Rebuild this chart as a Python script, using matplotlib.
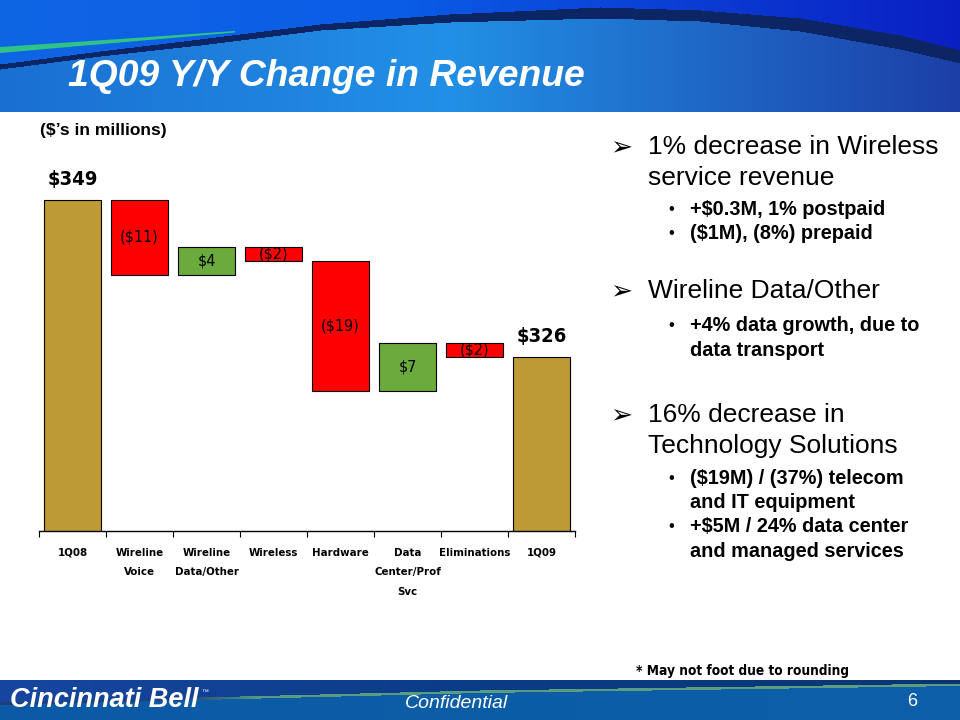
import numpy as np
import matplotlib
matplotlib.use("Agg")
import matplotlib.pyplot as plt
import matplotlib.colors as mcolors
from matplotlib.patches import Polygon

# ---- chart data ($ in millions) ----
categories = ["1Q08", "Wireline\nVoice", "Wireline\nData/Other", "Wireless",
              "Hardware", "Data\nCenter/Prof\nSvc", "Eliminations", "1Q09"]
start_value = 349
changes = [-11, 4, -2, -19, 7, -2]
end_value = 326
axis_floor = 300.5
axis_ceiling = 354.8

# ---- right hand commentary ----
headline_1 = ["1% decrease in Wireless", "service revenue"]
detail_1 = ["+$0.3M, 1% postpaid", "($1M), (8%) prepaid"]
headline_2 = ["Wireline Data/Other"]
detail_2 = ["+4% data growth, due to", "data transport"]
headline_3 = ["16% decrease in", "Technology Solutions"]
detail_3 = ["($19M) / (37%) telecom", "and IT equipment",
            "+$5M / 24% data center", "and managed services"]

TOTAL_COLOR = "#BE9A37"
DOWN_COLOR = "#FF0000"
UP_COLOR = "#6BAA3C"
NARROW = dict(family=["DejaVu Sans"], fontstretch="condensed")
SANS = ["Liberation Sans", "DejaVu Sans"]

W, H = 960, 720


def px(x, y):
    return x / W, 1 - y / H


def hgrad(xs, stops, colors):
    cols = np.array([mcolors.to_rgb(c) for c in colors])
    return np.stack([np.interp(xs, stops, cols[:, k]) for k in range(3)], axis=1)


fig = plt.figure(figsize=(9.6, 7.2), dpi=100)
fig.patch.set_facecolor("white")

# ---- header band ----
hh = 112
xs = np.arange(W)
Y = np.arange(hh)[:, None]
upper = hgrad(xs, [0, 400, 960], ["#0f66e4", "#0b5ce6", "#0a1fc2"])
lower = hgrad(xs, [0, 450, 960], ["#1a6fd2", "#2290e6", "#1c3fa6"])
top_edge = np.interp(xs, [0, 100, 200, 320, 450, 600, 700, 800, 900, 960],
                     [64, 51, 39, 24, 14, 7, 10, 18, 35, 50])
bot_edge = np.interp(xs, [0, 100, 200, 320, 450, 600, 700, 800, 900, 960],
                     [69, 56, 45, 30, 22, 18, 21, 31, 49, 63])
img = np.where((Y < top_edge[None, :])[..., None], upper[None], lower[None])
band = (Y >= top_edge[None, :]) & (Y <= bot_edge[None, :])
img[band] = mcolors.to_rgb("#0b2565")

ax_h = fig.add_axes([0, 1 - hh / H, 1, hh / H])
ax_h.imshow(img, extent=[0, W, hh, 0], aspect="auto")
ax_h.add_patch(Polygon([(0, 47), (120, 39), (235, 31), (235, 32.5), (120, 42.5), (0, 53)],
                       closed=True, color="#2fc486", lw=0))
ax_h.set_xlim(0, W)
ax_h.set_ylim(hh, 0)
ax_h.axis("off")
ax_h.text(68, 77, "1Q09 Y/Y Change in Revenue", color="white", fontsize=26.8,
          fontweight="bold", fontstyle="italic", family=SANS, va="center", ha="left")

# ---- footer band ----
ft = 680
fh = H - ft
Yf = np.arange(ft, H)[:, None]
stripe = np.interp(xs, [0, 200, 480, 960], [702, 697, 690, 683])
above = hgrad(xs, [0, 480, 960], ["#1746a0", "#0b3c86", "#0a3572"])
below = hgrad(xs, [0, 960], ["#0d5aa6", "#0b5fa8"])
stripe_col = hgrad(xs, [0, 180, 260, 960], ["#1d3f7a", "#1d3f7a", "#5a9c7e", "#5d9e82"])
fimg = np.where((Yf < stripe[None, :])[..., None], above[None], below[None])
sband = (Yf >= stripe[None, :]) & (Yf <= stripe[None, :] + 2.5)
fimg[sband] = np.broadcast_to(stripe_col[None], fimg.shape)[sband]

ax_f = fig.add_axes([0, 0, 1, fh / H])
ax_f.imshow(fimg, extent=[0, W, H, ft], aspect="auto")
ax_f.set_xlim(0, W)
ax_f.set_ylim(H, ft)
ax_f.axis("off")
ax_f.text(10, 700, "Cincinnati Bell", color="white", fontsize=19.5, fontweight="bold",
          fontstyle="italic", family=SANS, va="center", ha="left")
ax_f.text(201, 692, "\u2122", color="white", fontsize=5, family=SANS, va="center")
ax_f.text(457, 704, "Confidential", color="white", fontsize=14, fontstyle="italic",
          family=SANS, va="center", ha="center")
ax_f.text(912, 702, "6", color="white", fontsize=13, family=SANS, va="center", ha="center")

# ---- waterfall ----
ax = fig.add_axes([39 / W, 1 - 531 / H, (575 - 39) / W, (531 - 160) / H])
n = len(categories)
pos = np.arange(n)
bw = 0.84

ax.bar(pos[0], start_value, width=bw, color=TOTAL_COLOR, edgecolor="black", lw=0.8)
ax.bar(pos[-1], end_value, width=bw, color=TOTAL_COLOR, edgecolor="black", lw=0.8)
ax.text(pos[0], start_value + 2.9, f"${start_value}", ha="center", va="center",
        fontsize=14.5, fontweight="bold", **NARROW)
ax.text(pos[-1], end_value + 2.9, f"${end_value}", ha="center", va="center",
        fontsize=14.5, fontweight="bold", **NARROW)

running = start_value
for i, ch in enumerate(changes, start=1):
    lo, hi = sorted([running, running + ch])
    ax.bar(pos[i], hi - lo, bottom=lo, width=bw,
           color=UP_COLOR if ch > 0 else DOWN_COLOR, edgecolor="black", lw=0.8)
    lab = f"${ch}" if ch > 0 else f"(${-ch})"
    ax.text(pos[i], (lo + hi) / 2, lab, ha="center", va="center",
            fontsize=11.5, **NARROW)
    running += ch

ax.set_xlim(-0.5, n - 0.5)
ax.set_ylim(axis_floor, axis_ceiling)
for s in ["top", "right", "left"]:
    ax.spines[s].set_visible(False)
ax.spines["bottom"].set_linewidth(1.0)
ax.set_yticks([])
ax.set_xticks(np.arange(n + 1) - 0.5)
ax.set_xticklabels([])
ax.tick_params(axis="x", which="major", direction="out", length=4, width=0.8)
ax.set_xticks(pos, minor=True)
ax.set_xticklabels(categories, minor=True, fontsize=8.2, fontweight="bold",
                   linespacing=2.2, va="top", **NARROW)
ax.tick_params(axis="x", which="minor", length=0, pad=12)

fig.text(*px(40, 130), "($\u2019s in millions)", fontsize=12.5, fontweight="bold",
         family=SANS, va="center", ha="left")

# ---- commentary ----
def headline(lines, y0):
    fig.text(*px(610, y0 + 1), "\u27a2", fontsize=19, fontweight="bold",
             family=["DejaVu Sans"], va="center", ha="left")
    for k, t in enumerate(lines):
        fig.text(*px(648, y0 + 31 * k), t, fontsize=19, family=SANS,
                 va="center", ha="left")


def details(lines, y0, bullet_rows):
    for k, t in enumerate(lines):
        yy = y0 + 24.5 * k
        if k in bullet_rows:
            fig.text(*px(668, yy), "\u2022", fontsize=12, family=SANS,
                     va="center", ha="left")
        fig.text(*px(690, yy), t, fontsize=14.3, fontweight="bold", family=SANS,
                 va="center", ha="left")


headline(headline_1, 147)
details(detail_1, 209, [0, 1])
headline(headline_2, 291)
details(detail_2, 326, [0])
headline(headline_3, 415)
details(detail_3, 478, [0, 2])

fig.text(*px(636, 671), "* May not foot due to rounding", fontsize=9.8,
         fontweight="bold", **NARROW, va="center", ha="left")

fig.savefig("out.png", dpi=100, facecolor="white")
